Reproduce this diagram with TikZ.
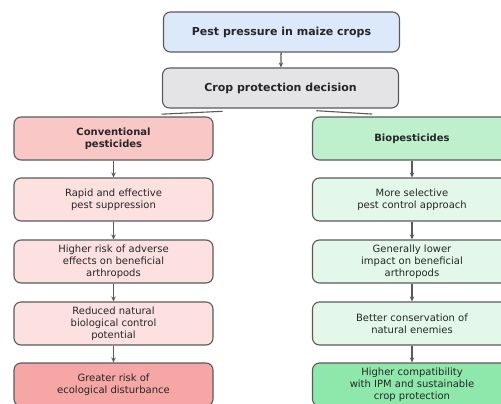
\documentclass[tikz,border=0pt]{standalone}
\usepackage{fontspec}
\setmainfont{DejaVu Sans}
\usetikzlibrary{arrows.meta}

\definecolor{edgegray}{HTML}{5A5A5A}
\definecolor{txtgray}{HTML}{262626}
\definecolor{topblue}{HTML}{DCE9FB}
\definecolor{decgray}{HTML}{E4E4E7}
\definecolor{convhead}{HTML}{FAC7C7}
\definecolor{convbody}{HTML}{FDE1E1}
\definecolor{convend}{HTML}{F7A6A6}
\definecolor{biohead}{HTML}{BEF0CD}
\definecolor{biobody}{HTML}{E3F8EA}
\definecolor{bioend}{HTML}{8EE8AC}

\tikzset{
    box/.style={draw=edgegray, line width=1.1pt, rounded corners=7pt, align=center,
        text=txtgray, inner sep=2pt, font=\fontsize{10}{12.2}\selectfont},
    mainbox/.style={box, minimum width=236pt, minimum height=40pt,
        font=\fontsize{11}{13}\selectfont\bfseries},
    colbox/.style={box, minimum width=199pt, minimum height=43pt},
    headfont/.style={font=\fontsize{10}{12.2}\selectfont\bfseries},
    flow/.style={-{Stealth[length=5pt, width=4.5pt]}, draw=edgegray, line width=1.3pt}
}

\begin{document}
\begin{tikzpicture}[x=1pt, y=-1pt]
    \useasboundingbox (0,0) rectangle (501,404);

    % Draw nodes
    \node[mainbox, fill=topblue] (pest) at (281.5,32) {Pest pressure in maize crops};
    \node[mainbox, fill=decgray] (decision) at (280.5,88) {Crop protection decision};

    \node[colbox, headfont, fill=convhead] (conv) at (113.5,138.5) {Conventional\\pesticides};
    \node[colbox, fill=convbody] (conv1) at (113.5,199.5) {Rapid and effective\\pest suppression};
    \node[colbox, fill=convbody] (conv2) at (113.5,261.5) {Higher risk of adverse\\effects on beneficial\\arthropods};
    \node[colbox, fill=convbody] (conv3) at (113.5,323.5) {Reduced natural\\biological control\\potential};
    \node[colbox, fill=convend] (conv4) at (113.5,384.5) {Greater risk of\\ecological disturbance};

    \node[colbox, headfont, fill=biohead] (bio) at (412,138.5) {Biopesticides};
    \node[colbox, fill=biobody] (bio1) at (412,199.5) {More selective\\pest control approach};
    \node[colbox, fill=biobody] (bio2) at (412,261.5) {Generally lower\\impact on beneficial\\arthropods};
    \node[colbox, fill=biobody] (bio3) at (412,323.5) {Better conservation of\\natural enemies};
    \node[colbox, fill=bioend] (bio4) at (412,384.5) {Higher compatibility\\with IPM and sustainable\\crop protection};

    % Draw connections
    \draw[flow] (pest) -- (decision);
    \draw[draw=edgegray, line width=1.1pt, shorten <=58pt, shorten >=48pt] (decision.south) -- (conv.north);
    \draw[draw=edgegray, line width=1.1pt, shorten <=36pt, shorten >=40pt] (decision.south) -- (bio.north);
    \foreach \a/\b in {conv/conv1, conv1/conv2, conv2/conv3, conv3/conv4,
                       bio/bio1, bio1/bio2, bio2/bio3, bio3/bio4} {
        \draw[flow] (\a) -- (\b);
    }
\end{tikzpicture}
\end{document}
